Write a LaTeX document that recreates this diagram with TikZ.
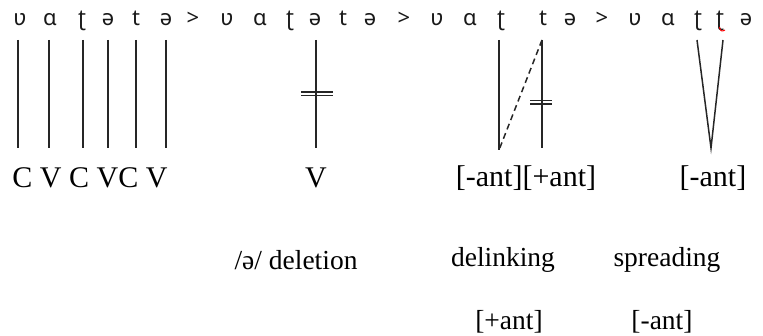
\documentclass[tikz,border=0pt]{standalone}
\usepackage{fontspec}
\setmainfont{Liberation Serif}
\newfontfamily\ipafont{Noto Sans}
\begin{document}
\begin{tikzpicture}[x=1pt,y=-1pt,
  ipa/.style={font=\ipafont\fontsize{22}{24}\selectfont, inner sep=0pt, anchor=base, text=black!90},
  lab/.style={font=\fontsize{30}{32}\selectfont, inner sep=0pt, text=black},
  labs/.style={font=\fontsize{27.5}{30}\selectfont, inner sep=0pt, text=black},
  assoc/.style={line width=1.5pt, black!85},
  bar/.style={line width=1.1pt, black!85}]
\useasboundingbox (0,0) rectangle (763,336);
% top row
\foreach \n/\x/\c in {a1/20/ʋ,a2/50/ɑ,a3/82/ʈ,a4/108/ə,a5/136/t,a6/166/ə,g1/193/>,
  b1/227/ʋ,b2/260/ɑ,b3/290/ʈ,b4/315/ə,b5/343/t,b6/370/ə,g2/404/>,
  c1/437/ʋ,c2/470/ɑ,c3/501/ʈ,c5/543/t,c6/570/ə,g3/602/>,
  d1/635/ʋ,d2/668/ɑ,d3/698/ʈ,d4/720/ʈ,d6/746/ə}
  \node[ipa] (\n) at (\x,26) {\c};
\draw[red, line width=1pt] (719.5,27) .. controls (720,31) and (722,32) .. (725,30);
% endpoints
\foreach \n/\x in {1/18,2/49,3/83,4/108,5/136,6/166}
  {\coordinate (pt\n) at (\x,40); \coordinate (pb\n) at (\x,148);
   \draw[assoc] (pt\n) -- (pb\n);}
\coordinate (qt) at (316,40); \coordinate (qb) at (316,148);
\draw[assoc] (qt) -- (qb);
\coordinate (q1l) at (301,92); \coordinate (q1r) at (333,92);
\coordinate (q2l) at (301,95.5); \coordinate (q2r) at (333,95.5);
\draw[bar] (q1l) -- (q1r); \draw[bar] (q2l) -- (q2r);
% delinking
\coordinate (rlt) at (499,40); \coordinate (rlb) at (499,150);
\coordinate (rrt) at (542,40); \coordinate (rrb) at (542,148);
\draw[assoc] (rlt) -- (rlb);
\draw[assoc] (rrt) -- (rrb);
\draw[assoc, dash pattern=on 6pt off 4pt] (rrt) -- (rlb);
\coordinate (r1l) at (530,100.5); \coordinate (r1r) at (552,100.5);
\coordinate (r2l) at (530,104); \coordinate (r2r) at (552,104);
\draw[bar] (r1l) -- (r1r); \draw[bar] (r2l) -- (r2r);
% spreading
\coordinate (sl) at (697,40); \coordinate (sb) at (711,148); \coordinate (sr) at (723,40);
\draw[assoc] (sl) -- (sb) -- (sr);
% labels
\node[lab] (cv) at (90,178) {C V C VC V};
\node[lab] (v) at (316,178) {V};
\node[lab] (ant1) at (526,178) {[-ant][+ant]};
\node[lab] (ant2) at (713,178) {[-ant]};
\node[labs] (del) at (296,260) {/ə/ deletion};
\node[labs] (dlk) at (503,260) {delinking};
\node[labs] (spr) at (667,260) {spreading};
\node[labs] (ant3) at (509,322) {[+ant]};
\node[labs] (ant4) at (662,322) {[-ant]};
\end{tikzpicture}
\end{document}
